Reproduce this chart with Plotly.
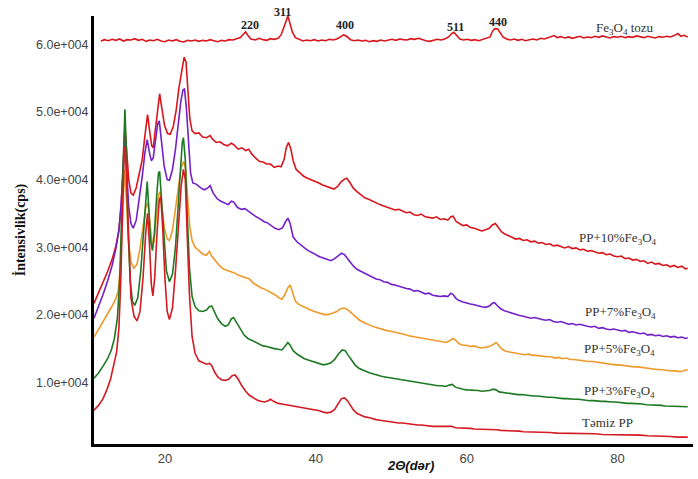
import plotly.graph_objects as go

# ---------------- data (2θ, counts) ----------------
fe3o4_tozu = [
    (11.5, 60500), (12.0, 60700), (12.5, 60550), (13.0, 60750), (13.5, 60600), (14.0, 60800),
    (14.5, 60500), (15.0, 60700), (15.5, 60650), (16.0, 60850), (16.5, 60600), (17.0, 60750),
    (17.5, 60450), (18.0, 60650), (18.5, 60550), (19.0, 60750), (19.5, 60500), (20.0, 60400),
    (20.5, 60650), (21.0, 60500), (21.5, 60700), (22.0, 60450), (22.5, 60350), (23.0, 60600),
    (23.5, 60500), (24.0, 60650), (24.5, 60450), (25.0, 60600), (25.5, 60500), (26.0, 60700),
    (26.5, 60550), (27.0, 60400), (27.5, 60600), (28.0, 60500), (28.5, 60700), (29.0, 60650),
    (29.5, 60850), (30.0, 61000), (30.4, 61500), (30.7, 61850), (31.0, 61300), (31.4, 60800),
    (32.0, 60650), (32.5, 60900), (33.0, 60700), (33.5, 60600), (34.0, 60850), (34.5, 60750),
    (35.0, 60900), (35.4, 61400), (35.8, 62600), (36.1, 63800), (36.3, 64200), (36.6, 63000),
    (36.9, 61800), (37.3, 61000), (37.8, 60700), (38.3, 60500), (38.8, 60650), (39.3, 60550),
    (39.8, 60700), (40.3, 60500), (40.8, 60650), (41.3, 60550), (41.8, 60750), (42.3, 60650),
    (42.8, 60800), (43.3, 61100), (43.7, 61400), (44.1, 61200), (44.6, 60700), (45.1, 60550),
    (45.6, 60650), (46.1, 60500), (46.6, 60600), (47.1, 60400), (47.6, 60550), (48.1, 60450),
    (48.6, 60650), (49.1, 60500), (49.6, 60600), (50.1, 60750), (50.6, 60600), (51.1, 60800),
    (51.6, 60700), (52.1, 60650), (52.6, 60850), (53.1, 60750), (53.6, 60900), (54.1, 60700),
    (54.6, 60550), (55.1, 60450), (55.6, 60650), (56.1, 60750), (56.6, 60650), (57.1, 60800),
    (57.6, 61100), (58.0, 61600), (58.3, 61800), (58.7, 61300), (59.1, 60800), (59.6, 60650),
    (60.1, 60750), (60.6, 60600), (61.1, 60700), (61.6, 60550), (62.1, 60700), (62.6, 60850),
    (63.1, 61100), (63.4, 61900), (63.7, 62300), (64.1, 62300), (64.4, 61800), (64.8, 61100),
    (65.3, 60800), (65.8, 60650), (66.3, 60800), (66.8, 60600), (67.3, 60750), (67.8, 60550),
    (68.3, 60700), (68.8, 60800), (69.3, 60650), (69.8, 60900), (70.3, 60800), (70.8, 61000),
    (71.3, 61100), (71.6, 61300), (72.0, 61000), (72.5, 61150), (73.0, 60950), (73.5, 61100),
    (74.0, 60900), (74.5, 61050), (75.0, 61200), (75.5, 60950), (76.0, 61100), (76.5, 61000),
    (77.0, 61200), (77.5, 61050), (78.0, 61250), (78.5, 61100), (79.0, 60950), (79.5, 61150),
    (80.0, 61050), (80.5, 61200), (81.0, 61000), (81.5, 61150), (82.0, 61050), (82.5, 61250),
    (83.0, 61100), (83.5, 61000), (84.0, 61200), (84.5, 61100), (85.0, 60950), (85.5, 61150),
    (86.0, 61050), (86.5, 61200), (87.0, 61100), (87.5, 61300), (88.0, 61600), (88.4, 61200),
    (88.8, 61350), (89.3, 61100),
]

pp_10 = [
    (10.6, 21700), (11.2, 23200), (11.8, 24700), (12.4, 26400), (13.0, 28200), (13.5, 30200),
    (13.9, 32500), (14.2, 36000), (14.45, 42000), (14.7, 47800), (14.95, 44000), (15.2, 40000),
    (15.5, 38000), (15.8, 37700), (16.2, 38800), (16.6, 40800), (17.0, 43000), (17.35, 46500),
    (17.7, 49600), (18.0, 47000), (18.25, 45000), (18.45, 44700), (18.75, 47500), (19.05, 51000),
    (19.3, 52700), (19.6, 50500), (19.95, 48000), (20.35, 46800), (20.7, 46700), (21.1, 47800),
    (21.5, 50300), (21.85, 53500), (22.1, 55300), (22.35, 57200), (22.55, 58100), (22.8, 57400),
    (23.05, 53500), (23.3, 49000), (23.6, 47200), (24.0, 46800), (24.5, 46900), (25.0, 46300),
    (25.5, 46200), (26.0, 46500), (26.3, 46000), (26.8, 45500), (27.3, 45600), (27.8, 45200),
    (28.3, 45000), (28.8, 45400), (29.2, 45100), (29.7, 44500), (30.2, 44700), (30.7, 44300),
    (31.1, 44500), (31.5, 43800), (32.0, 43200), (32.5, 42700), (33.0, 42600), (33.5, 42300),
    (34.0, 42300), (34.5, 41800), (35.0, 42000), (35.4, 41900), (35.8, 43000), (36.1, 44800),
    (36.4, 45500), (36.7, 44500), (37.0, 42800), (37.4, 41500), (37.9, 41000), (38.4, 40500),
    (38.9, 40200), (39.4, 40000), (39.9, 39700), (40.4, 39500), (40.9, 39200), (41.4, 39000),
    (41.9, 38800), (42.4, 38600), (42.9, 39000), (43.3, 39600), (43.7, 40000), (44.1, 40200),
    (44.5, 39600), (45.0, 38700), (45.5, 38200), (46.0, 37700), (46.5, 37300), (47.0, 37100),
    (47.5, 36800), (48.0, 36500), (48.5, 36300), (49.0, 36100), (49.5, 35900), (50.0, 35800),
    (50.5, 35500), (51.0, 35600), (51.5, 35300), (52.0, 35100), (52.5, 35200), (53.0, 34800),
    (53.5, 34700), (54.0, 34900), (54.5, 34500), (55.0, 34400), (55.5, 34300), (56.0, 34500),
    (56.5, 34100), (57.0, 34200), (57.5, 34000), (57.9, 34500), (58.2, 34600), (58.6, 33800),
    (59.0, 33500), (59.5, 33200), (60.0, 33300), (60.5, 32900), (61.0, 32800), (61.5, 32600),
    (62.0, 32400), (62.5, 32600), (63.0, 32800), (63.4, 33300), (63.8, 33500), (64.2, 32900),
    (64.6, 32300), (65.0, 32000), (65.5, 31700), (66.0, 31500), (66.5, 31200), (67.0, 31300),
    (67.5, 31000), (68.0, 31100), (68.5, 30800), (69.0, 30900), (69.5, 30600), (70.0, 30700),
    (70.5, 30400), (71.0, 30500), (71.5, 30200), (72.0, 30300), (72.5, 30100), (73.0, 29900),
    (73.5, 30100), (74.0, 29800), (74.5, 29900), (75.0, 29600), (75.5, 29700), (76.0, 29400),
    (76.5, 29500), (77.0, 29300), (77.5, 29100), (78.0, 29200), (78.5, 28900), (79.0, 29000),
    (79.5, 28700), (80.0, 28600), (80.5, 28700), (81.0, 28300), (81.5, 28400), (82.0, 28100),
    (82.5, 28200), (83.0, 27900), (83.5, 28000), (84.0, 27600), (84.5, 27800), (85.0, 27500),
    (85.5, 27600), (86.0, 27300), (86.5, 27400), (87.0, 27100), (87.5, 27300), (88.0, 27000),
    (88.5, 27200), (89.0, 26800), (89.3, 26900),
]

pp_7 = [
    (10.6, 19500), (11.2, 21200), (11.8, 23000), (12.4, 25000), (13.0, 27300), (13.5, 29800),
    (13.9, 32500), (14.2, 36500), (14.45, 41500), (14.7, 45700), (14.95, 41000), (15.2, 36000),
    (15.5, 33500), (15.8, 32800), (16.2, 34000), (16.6, 37000), (17.0, 40500), (17.35, 44000),
    (17.65, 45900), (17.95, 44000), (18.2, 42800), (18.45, 43200), (18.75, 46000), (19.05, 48300),
    (19.25, 48700), (19.55, 46000), (19.9, 42000), (20.3, 40000), (20.6, 39900), (21.0, 41500),
    (21.4, 44500), (21.8, 48500), (22.1, 51500), (22.4, 53300), (22.6, 53400), (22.85, 50500),
    (23.1, 45500), (23.4, 41000), (23.7, 39500), (24.2, 39300), (24.7, 38800), (25.2, 38500),
    (25.6, 38700), (26.0, 39100), (26.4, 38000), (26.9, 37200), (27.4, 36800), (27.9, 36500),
    (28.4, 36300), (28.8, 36800), (29.1, 36700), (29.6, 35900), (30.1, 35600), (30.6, 35700),
    (31.1, 35300), (31.6, 34800), (32.1, 34500), (32.6, 34200), (33.1, 33800), (33.6, 33600),
    (34.1, 33200), (34.6, 32800), (35.1, 32600), (35.6, 32900), (36.0, 33800), (36.3, 34300),
    (36.6, 33500), (37.0, 31500), (37.5, 30800), (38.0, 30300), (38.5, 29900), (39.0, 29500),
    (39.5, 29200), (40.0, 28800), (40.5, 28600), (41.0, 28400), (41.5, 28200), (42.0, 28000),
    (42.5, 28300), (43.0, 28800), (43.4, 29100), (43.8, 28900), (44.2, 28300), (44.6, 27700),
    (45.0, 27200), (45.5, 26700), (46.0, 26400), (46.5, 26100), (47.0, 25900), (47.5, 25600),
    (48.0, 25300), (48.5, 25200), (49.0, 24900), (49.5, 24800), (50.0, 24500), (50.5, 24400),
    (51.0, 24200), (51.5, 24000), (52.0, 23900), (52.5, 23800), (53.0, 23500), (53.5, 23600),
    (54.0, 23300), (54.5, 23100), (55.0, 23200), (55.5, 22900), (56.0, 22800), (56.5, 22700),
    (57.0, 22800), (57.5, 22700), (57.9, 23200), (58.2, 23000), (58.6, 22400), (59.0, 22100),
    (59.5, 21900), (60.0, 21700), (60.5, 21600), (61.0, 21500), (61.5, 21300), (62.0, 21200),
    (62.5, 21100), (63.0, 21300), (63.4, 21700), (63.7, 21800), (64.1, 21300), (64.5, 20900),
    (65.0, 20600), (65.5, 20400), (66.0, 20300), (66.5, 20100), (67.0, 19900), (67.5, 19800),
    (68.0, 19700), (68.5, 19500), (69.0, 19600), (69.5, 19400), (70.0, 19300), (70.5, 19200),
    (71.0, 19300), (71.5, 19000), (72.0, 18900), (72.5, 19000), (73.0, 18800), (73.5, 18600),
    (74.0, 18700), (74.5, 18500), (75.0, 18600), (75.5, 18400), (76.0, 18300), (76.5, 18200),
    (77.0, 18300), (77.5, 18000), (78.0, 18100), (78.5, 17900), (79.0, 17800), (79.5, 17900),
    (80.0, 17700), (80.5, 17600), (81.0, 17700), (81.5, 17400), (82.0, 17500), (82.5, 17300),
    (83.0, 17200), (83.5, 17300), (84.0, 17000), (84.5, 17100), (85.0, 16900), (85.5, 17000),
    (86.0, 16800), (86.5, 16900), (87.0, 16700), (87.5, 16800), (88.0, 16600), (88.5, 16700),
    (89.0, 16500), (89.3, 16600),
]

pp_5 = [
    (10.6, 16700), (11.2, 17800), (11.8, 19000), (12.4, 20200), (13.0, 21300), (13.5, 22400),
    (13.8, 23500), (14.1, 27000), (14.4, 35000), (14.65, 41500), (14.9, 37000), (15.15, 31000),
    (15.5, 27800), (15.9, 26900), (16.3, 27500), (16.7, 29800), (17.1, 33000), (17.45, 35800),
    (17.75, 36600), (18.0, 33500), (18.3, 30500), (18.55, 30800), (18.85, 34500), (19.15, 37800),
    (19.35, 38200), (19.6, 36000), (19.9, 33000), (20.3, 31200), (20.6, 31000), (21.0, 32500),
    (21.4, 35500), (21.8, 39000), (22.15, 41800), (22.5, 42700), (22.75, 41500), (23.0, 37500),
    (23.3, 33000), (23.6, 31000), (24.0, 30000), (24.5, 29500), (25.0, 29000), (25.5, 28800),
    (25.9, 29400), (26.2, 28700), (26.7, 28000), (27.2, 27300), (27.7, 26800), (28.2, 26600),
    (28.7, 26500), (29.2, 26200), (29.7, 25900), (30.2, 25700), (30.7, 25500), (31.2, 25300),
    (31.7, 24700), (32.2, 24300), (32.7, 24000), (33.2, 23800), (33.7, 23500), (34.2, 23200),
    (34.7, 22900), (35.1, 22500), (35.5, 22300), (35.9, 23000), (36.3, 24000), (36.6, 24400),
    (36.9, 23300), (37.3, 22000), (37.8, 21500), (38.3, 21200), (38.8, 20900), (39.3, 20700),
    (39.8, 20500), (40.3, 20300), (40.8, 20200), (41.3, 20000), (41.8, 20100), (42.3, 20300),
    (42.8, 20500), (43.3, 20900), (43.8, 21000), (44.3, 20700), (44.8, 20200), (45.3, 19600),
    (45.8, 19200), (46.3, 18900), (46.8, 18600), (47.3, 18400), (47.8, 18200), (48.3, 18000),
    (48.8, 17900), (49.3, 17700), (49.8, 17600), (50.3, 17500), (50.8, 17300), (51.3, 17200),
    (51.8, 17100), (52.3, 16900), (52.8, 16800), (53.3, 16700), (53.8, 16600), (54.3, 16500),
    (54.8, 16400), (55.3, 16300), (55.8, 16200), (56.3, 16200), (56.8, 16000), (57.3, 15900),
    (57.8, 16200), (58.2, 16500), (58.6, 16200), (59.0, 15700), (59.5, 15500), (60.0, 15500),
    (60.5, 15300), (61.0, 15400), (61.5, 15200), (62.0, 15100), (62.5, 15200), (63.0, 15300),
    (63.5, 15600), (63.9, 15900), (64.3, 15400), (64.7, 14900), (65.2, 14600), (65.7, 14500),
    (66.2, 14400), (66.7, 14300), (67.2, 14300), (67.7, 14100), (68.2, 14200), (68.7, 14000),
    (69.2, 14000), (69.7, 13900), (70.2, 13900), (70.7, 13800), (71.2, 13800), (71.7, 13600),
    (72.2, 13700), (72.7, 13500), (73.2, 13600), (73.7, 13400), (74.2, 13400), (74.7, 13300),
    (75.2, 13300), (75.7, 13200), (76.2, 13100), (76.7, 13100), (77.2, 13000), (77.7, 12900),
    (78.2, 12900), (78.7, 12800), (79.2, 12700), (79.7, 12600), (80.2, 12600), (80.7, 12500),
    (81.2, 12500), (81.7, 12400), (82.2, 12300), (82.7, 12300), (83.2, 12200), (83.7, 12100),
    (84.2, 12100), (84.7, 12000), (85.2, 11900), (85.7, 11900), (86.2, 11800), (86.7, 11800),
    (87.2, 11700), (87.7, 11700), (88.2, 11600), (88.7, 11700), (89.3, 11900),
]

pp_3 = [
    (10.6, 10600), (11.2, 11400), (11.8, 12400), (12.4, 13500), (12.9, 14800), (13.3, 16500),
    (13.7, 19500), (14.0, 25000), (14.3, 36000), (14.55, 47000), (14.7, 50400), (14.9, 44000),
    (15.1, 33000), (15.4, 25000), (15.7, 22000), (16.0, 21400), (16.4, 22500), (16.8, 26500),
    (17.2, 33000), (17.5, 38000), (17.65, 39700), (17.85, 36000), (18.1, 31000), (18.35, 29500),
    (18.6, 32000), (18.9, 37500), (19.15, 41000), (19.3, 41200), (19.55, 37000), (19.85, 31000),
    (20.2, 26500), (20.6, 24900), (21.0, 26000), (21.4, 30000), (21.75, 36000), (22.05, 42000),
    (22.3, 45500), (22.45, 46200), (22.7, 43000), (22.95, 35000), (23.25, 27000), (23.6, 22700),
    (24.0, 21200), (24.5, 20600), (25.0, 20500), (25.5, 20700), (25.9, 21200), (26.2, 21300),
    (26.6, 20300), (27.0, 19400), (27.5, 18700), (28.0, 18300), (28.4, 18500), (28.8, 19400),
    (29.1, 19600), (29.5, 18800), (30.0, 17800), (30.5, 17000), (31.0, 16500), (31.5, 16200),
    (32.0, 15900), (32.5, 15600), (33.0, 15400), (33.5, 15300), (34.0, 15100), (34.5, 15000),
    (35.0, 14900), (35.5, 14800), (35.9, 15300), (36.3, 15900), (36.6, 15500), (37.0, 14700),
    (37.5, 14200), (38.0, 13800), (38.5, 13500), (39.0, 13300), (39.5, 13100), (40.0, 12900),
    (40.5, 12800), (41.0, 12600), (41.5, 12700), (42.0, 12900), (42.5, 13400), (43.0, 14200),
    (43.5, 14800), (43.9, 14700), (44.3, 14000), (44.7, 13300), (45.2, 12600), (45.7, 12100),
    (46.2, 11800), (46.7, 11600), (47.2, 11400), (47.7, 11200), (48.2, 11000), (48.7, 10900),
    (49.2, 10800), (49.7, 10700), (50.2, 10600), (50.7, 10500), (51.2, 10400), (51.7, 10300),
    (52.2, 10200), (52.7, 10100), (53.2, 10000), (53.7, 9900), (54.2, 9800), (54.7, 9700),
    (55.2, 9700), (55.7, 9600), (56.2, 9500), (56.7, 9500), (57.2, 9400), (57.7, 9600),
    (58.1, 9700), (58.5, 9300), (59.0, 9100), (59.5, 9000), (60.0, 8900), (60.5, 8900),
    (61.0, 8800), (61.5, 8800), (62.0, 8700), (62.5, 8700), (63.0, 8800), (63.5, 9000),
    (63.9, 8900), (64.3, 8600), (64.8, 8500), (65.3, 8400), (65.8, 8400), (66.3, 8300),
    (66.8, 8200), (67.3, 8200), (67.8, 8100), (68.3, 8100), (68.8, 8000), (69.3, 8000),
    (69.8, 7900), (70.3, 7900), (70.8, 7800), (71.3, 7800), (71.8, 7700), (72.3, 7700),
    (72.8, 7600), (73.3, 7600), (73.8, 7500), (74.3, 7500), (74.8, 7500), (75.3, 7400),
    (75.8, 7400), (76.3, 7300), (76.8, 7300), (77.3, 7200), (77.8, 7200), (78.3, 7200),
    (78.8, 7100), (79.3, 7100), (79.8, 7100), (80.3, 7000), (80.8, 7000), (81.3, 6900),
    (81.8, 6900), (82.3, 6900), (82.8, 6800), (83.3, 6800), (83.8, 6700), (84.3, 6700),
    (84.8, 6700), (85.3, 6600), (85.8, 6600), (86.3, 6500), (86.8, 6500), (87.3, 6500),
    (87.8, 6400), (88.3, 6400), (88.8, 6400), (89.3, 6400),
]

temiz_pp = [
    (10.6, 5900), (11.2, 6600), (11.8, 7600), (12.3, 8900), (12.8, 10500), (13.2, 12300),
    (13.6, 14500), (13.9, 18000), (14.15, 25000), (14.4, 36000), (14.6, 44000), (14.75, 45000),
    (14.95, 39000), (15.2, 29000), (15.5, 22500), (15.9, 19800), (16.3, 19100), (16.7, 20500),
    (17.1, 25500), (17.45, 32000), (17.7, 35000), (17.95, 30500), (18.2, 24500), (18.4, 22800),
    (18.65, 25500), (18.95, 32000), (19.25, 37000), (19.45, 37500), (19.7, 33000), (20.0, 25500),
    (20.3, 20500), (20.6, 19300), (21.0, 21000), (21.4, 26500), (21.8, 33500), (22.15, 39000),
    (22.45, 41500), (22.7, 40000), (22.95, 32000), (23.25, 23000), (23.6, 16800), (24.0, 14300),
    (24.5, 13200), (25.0, 12900), (25.5, 12700), (25.9, 12800), (26.2, 12500), (26.6, 11500),
    (27.0, 10800), (27.5, 10400), (28.0, 10300), (28.5, 10500), (28.9, 11000), (29.3, 11100),
    (29.7, 10500), (30.2, 9500), (30.7, 8700), (31.2, 8100), (31.7, 7700), (32.2, 7400),
    (32.7, 7200), (33.2, 7100), (33.7, 7300), (34.0, 7500), (34.4, 7200), (35.0, 6900),
    (35.5, 6800), (36.0, 6700), (36.5, 6600), (37.0, 6500), (37.5, 6500), (38.0, 6400),
    (38.5, 6200), (39.0, 6100), (39.5, 6000), (40.0, 5900), (40.5, 5800), (41.0, 5600),
    (41.5, 5500), (42.0, 5600), (42.5, 6000), (43.0, 6900), (43.4, 7600), (43.8, 7700),
    (44.2, 7300), (44.6, 6600), (45.0, 5900), (45.5, 5400), (46.0, 5100), (46.5, 4900),
    (47.0, 4800), (47.5, 4600), (48.0, 4500), (48.5, 4400), (49.0, 4300), (49.5, 4200),
    (50.0, 4200), (50.5, 4100), (51.0, 4000), (51.5, 4000), (52.0, 3900), (52.5, 3900),
    (53.0, 3800), (53.5, 3700), (54.0, 3700), (54.5, 3600), (55.0, 3600), (55.5, 3500),
    (56.0, 3500), (56.5, 3500), (57.0, 3400), (57.5, 3400), (58.0, 3500), (58.5, 3300),
    (59.0, 3300), (59.5, 3200), (60.0, 3200), (60.5, 3200), (61.0, 3100), (61.5, 3100),
    (62.0, 3100), (62.5, 3000), (63.0, 3000), (63.5, 3100), (64.0, 3000), (64.5, 2900),
    (65.0, 2900), (65.5, 2900), (66.0, 2800), (66.5, 2800), (67.0, 2800), (67.5, 2700),
    (68.0, 2700), (68.5, 2700), (69.0, 2700), (69.5, 2600), (70.0, 2600), (71.0, 2600),
    (72.0, 2500), (73.0, 2500), (74.0, 2500), (75.0, 2400), (76.0, 2400), (77.0, 2400),
    (78.0, 2300), (79.0, 2300), (80.0, 2300), (81.0, 2200), (82.0, 2200), (83.0, 2200),
    (84.0, 2100), (85.0, 2100), (86.0, 2000), (87.0, 2000), (88.0, 1900), (89.3, 1900),
]

# series labels and their label anchor (2θ, counts)
series_names = ["PP+10%Fe<sub>3</sub>O<sub>4</sub>", "PP+7%Fe<sub>3</sub>O<sub>4</sub>",
                "PP+5%Fe<sub>3</sub>O<sub>4</sub>", "PP+3%Fe<sub>3</sub>O<sub>4</sub>",
                "Təmiz PP", "Fe<sub>3</sub>O<sub>4</sub> tozu"]
label_x = [80.0, 80.4, 80.3, 80.2, 78.7, 81.0]
label_y = [31300, 20300, 14800, 8600, 4000, 62300]

# hkl reflections of Fe3O4 (label x in 2θ, label height as fraction of plot height)
hkl_labels = ["220", "311", "400", "511", "440"]
hkl_x = [31.3, 35.6, 43.9, 58.5, 64.2]
hkl_yfrac = [0.979, 1.010, 0.979, 0.975, 0.986]

y_ticks = [10000, 20000, 30000, 40000, 50000, 60000]
y_ticktext = ["1.0e+004", "2.0e+004", "3.0e+004", "4.0e+004", "5.0e+004", "6.0e+004"]
x_ticks = [20, 40, 60, 80]

# ---------------- figure ----------------
all_series = [pp_10, pp_7, pp_5, pp_3, temiz_pp, fe3o4_tozu]
colors = ["#d9161c", "#7420c8", "#ee9a2a", "#1d7a22", "#d41a22", "#d9161c"]

fig = go.Figure()
for data, col, name in zip(all_series, colors, series_names):
    xs = [p[0] for p in data]
    ys = [p[1] for p in data]
    fig.add_trace(go.Scatter(x=xs, y=ys, mode="lines", name=name,
                             line=dict(color=col, width=1.6), showlegend=False))

for name, lx, ly in zip(series_names, label_x, label_y):
    fig.add_annotation(x=lx, y=ly, text=name, showarrow=False,
                       font=dict(family="Liberation Serif", size=13, color="#333333"))

for t, hx, hy in zip(hkl_labels, hkl_x, hkl_yfrac):
    fig.add_annotation(x=hx, xref="x", y=hy, yref="paper", text="<b>" + t + "</b>",
                       showarrow=False, xanchor="center", yanchor="middle",
                       font=dict(family="Liberation Serif", size=12, color="#222222"))

fig.add_annotation(xref="paper", yref="paper", x=-0.123, y=0.5, text="<b>İntensivlik(cps)</b>",
                   textangle=-90, showarrow=False, xanchor="center", yanchor="middle",
                   font=dict(family="Liberation Serif", size=14, color="#111111"))
fig.add_annotation(xref="paper", yref="paper", x=0.529, y=-0.051, text="<b><i>2Θ(dər)</i></b>",
                   showarrow=False, xanchor="center", yanchor="middle",
                   font=dict(family="Liberation Sans", size=13, color="#111111"))

fig.update_layout(
    width=698, height=479,
    margin=dict(l=94, r=4.5, t=16, b=35),
    paper_bgcolor="white", plot_bgcolor="white",
    xaxis=dict(range=[10.6, 90], tickvals=x_ticks, showgrid=False, zeroline=False,
               showline=True, linecolor="black", linewidth=3, ticks="",
               tickfont=dict(family="Liberation Sans", size=13, color="#444444")),
    yaxis=dict(range=[890, 64200], tickvals=y_ticks, ticktext=y_ticktext, showgrid=False,
               zeroline=False, showline=True, linecolor="black", linewidth=3, ticks="",
               tickfont=dict(family="Liberation Sans", size=12.5, color="#444444")),
)

fig.write_html("out.html", config={"displayModeBar": False},
               post_script="document.body.style.margin='0';")
